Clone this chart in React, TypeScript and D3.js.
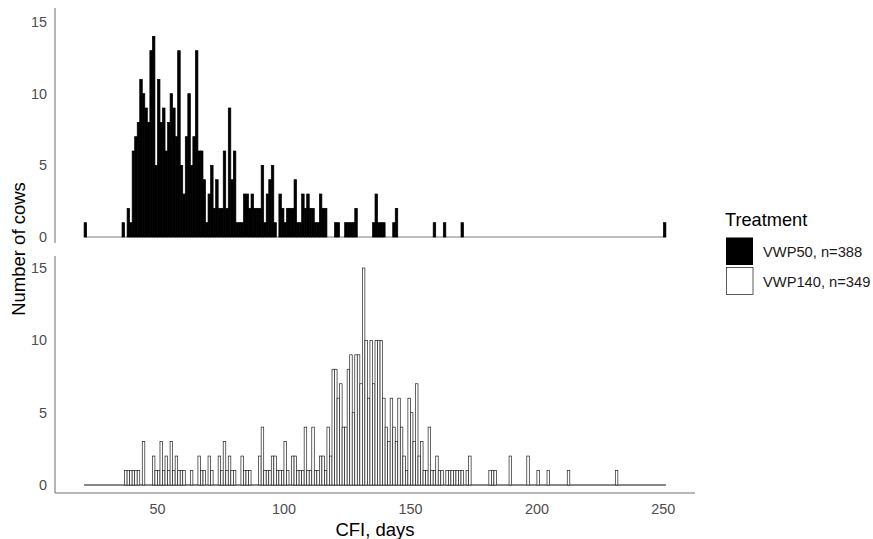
import React from "react";
import * as d3 from "d3";

// histogram bins are 1 day wide, first bin starts at day 21
const binStart = 21;

// VWP50 counts per day, day 21 .. 250
const countsVWP50 = [
  1, 0, 0, 0, 0, 0, 0, 0, 0, 0,
  0, 0, 0, 0, 0, 1, 0, 2, 1, 6,
  7, 8, 11, 10, 9, 8, 13, 14, 5, 11,
  8, 9, 6, 8, 10, 9, 7, 13, 5, 3,
  7, 10, 5, 7, 13, 6, 6, 4, 1, 3,
  5, 2, 4, 2, 2, 6, 2, 9, 4, 6,
  1, 1, 1, 3, 3, 2, 3, 2, 2, 2,
  5, 1, 3, 4, 5, 1, 0, 3, 2, 1,
  2, 2, 2, 4, 1, 1, 3, 2, 3, 2,
  2, 1, 1, 3, 2, 2, 0, 0, 0, 1,
  1, 0, 0, 1, 1, 1, 1, 2, 0, 0,
  0, 0, 0, 0, 1, 3, 1, 1, 1, 0,
  0, 0, 1, 2, 0, 0, 0, 0, 0, 0,
  0, 0, 0, 0, 0, 0, 0, 0, 1, 0,
  0, 0, 1, 0, 0, 0, 0, 0, 0, 1,
  0, 0, 0, 0, 0, 0, 0, 0, 0, 0,
  0, 0, 0, 0, 0, 0, 0, 0, 0, 0,
  0, 0, 0, 0, 0, 0, 0, 0, 0, 0,
  0, 0, 0, 0, 0, 0, 0, 0, 0, 0,
  0, 0, 0, 0, 0, 0, 0, 0, 0, 0,
  0, 0, 0, 0, 0, 0, 0, 0, 0, 0,
  0, 0, 0, 0, 0, 0, 0, 0, 0, 0,
  0, 0, 0, 0, 0, 0, 0, 0, 0, 1,
];

// VWP140 counts per day, day 21 .. 250
const countsVWP140 = [
  0, 0, 0, 0, 0, 0, 0, 0, 0, 0,
  0, 0, 0, 0, 0, 0, 1, 1, 1, 1,
  1, 1, 0, 3, 0, 0, 0, 2, 1, 1,
  3, 1, 2, 1, 3, 1, 2, 1, 1, 1,
  0, 0, 1, 0, 0, 2, 1, 1, 0, 2,
  1, 0, 0, 2, 1, 3, 1, 2, 1, 1,
  0, 0, 2, 1, 1, 1, 0, 0, 0, 2,
  4, 1, 1, 1, 2, 2, 1, 1, 1, 3,
  1, 0, 2, 2, 1, 1, 1, 4, 1, 1,
  4, 1, 1, 2, 2, 1, 4, 2, 8, 8,
  6, 7, 4, 4, 8, 9, 5, 9, 9, 7,
  15, 10, 6, 10, 7, 10, 10, 10, 6, 4,
  3, 6, 4, 3, 6, 4, 2, 1, 6, 5,
  3, 7, 2, 3, 1, 1, 4, 1, 1, 2,
  1, 1, 0, 1, 1, 1, 1, 1, 1, 1,
  0, 1, 2, 0, 0, 0, 0, 0, 0, 0,
  1, 1, 1, 0, 0, 0, 0, 0, 2, 0,
  0, 0, 0, 0, 0, 2, 0, 0, 0, 1,
  0, 0, 0, 1, 0, 0, 0, 0, 0, 0,
  0, 1, 0, 0, 0, 0, 0, 0, 0, 0,
  0, 0, 0, 0, 0, 0, 0, 0, 0, 0,
  1, 0, 0, 0, 0, 0, 0, 0, 0, 0,
  0, 0, 0, 0, 0, 0, 0, 0, 0, 0,
];

const xTicks = [50, 100, 150, 200, 250];
const yTicks = [0, 5, 10, 15];
const legendLabels = ["VWP50, n=388", "VWP140, n=349"];

const font = "'Liberation Sans', Arial, Helvetica, sans-serif";

function Panel({ counts, top, bottom, y0, y15, fill, stroke, baseColor, x }) {
  const y = d3.scaleLinear().domain([0, 15]).range([y0, y15]);
  const bins = counts.map((c, i) => ({ day: binStart + i, count: c }));
  const lastDay = binStart + counts.length;
  return (
    <g>
      <line x1={55} x2={55} y1={top} y2={bottom} stroke="#6e6e6e" strokeWidth={1} />
      {yTicks.map((t) => (
        <text key={t} x={47} y={y(t)} dy="0.35em" textAnchor="end" fontSize={14.4} fill="#4d4d4d">
          {t}
        </text>
      ))}
      <line x1={x(binStart)} x2={x(lastDay)} y1={y(0)} y2={y(0)} stroke={baseColor} strokeWidth={1} />
      {bins
        .filter((b) => b.count > 0)
        .map((b) => (
          <rect
            key={b.day}
            x={x(b.day)}
            width={x(b.day + 1) - x(b.day)}
            y={y(b.count)}
            height={y(0) - y(b.count)}
            fill={fill}
            stroke={stroke}
            strokeWidth={0.7}
          />
        ))}
    </g>
  );
}

export default function App() {
  const x = d3.scaleLinear().domain([9.5, 262.5]).range([55, 695]);
  return (
    <svg width={873} height={539} style={{ display: "block", position: "absolute", left: 0, top: 0 }} fontFamily={font}>
      <rect width={873} height={539} fill="#fff" />
      <Panel counts={countsVWP50} top={8} bottom={243} y0={237} y15={22} fill="#000" stroke="#000" baseColor="#7a7a7a" x={x} />
      <Panel counts={countsVWP140} top={256} bottom={493} y0={485} y15={268} fill="#fff" stroke="#222" baseColor="#111" x={x} />
      <line x1={55} x2={695} y1={493} y2={493} stroke="#6e6e6e" strokeWidth={1} />
      {xTicks.map((t) => (
        <text key={t} x={x(t)} y={514} textAnchor="middle" fontSize={14.4} fill="#4d4d4d">
          {t}
        </text>
      ))}
      <text x={375} y={536} textAnchor="middle" fontSize={18.5} fill="#000">
        CFI, days
      </text>
      <text transform="translate(25,249) rotate(-90)" textAnchor="middle" fontSize={18.5} fill="#000">
        Number of cows
      </text>
      <g>
        <text x={725} y={226} fontSize={18.2} fill="#000">
          Treatment
        </text>
        <rect x={726} y={237.5} width={27} height={27.5} fill="#000" />
        <rect x={726.5} y={267.5} width={26.5} height={27} fill="#fff" stroke="#333" strokeWidth={0.8} />
        {legendLabels.map((l, i) => (
          <text key={l} x={763} y={257.3 + i * 30} fontSize={14.7} fill="#1a1a1a">
            {l}
          </text>
        ))}
      </g>
    </svg>
  );
}
